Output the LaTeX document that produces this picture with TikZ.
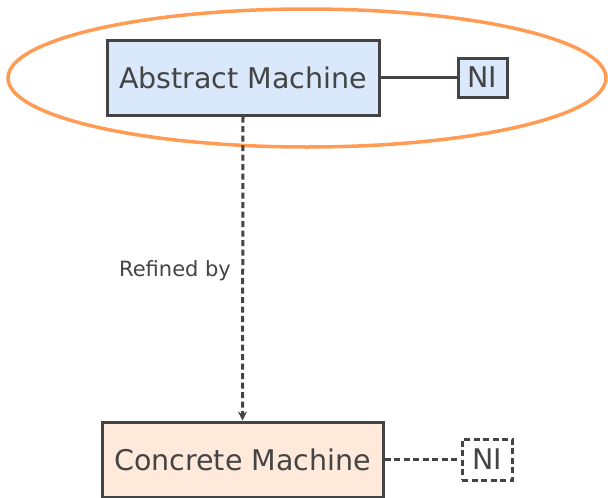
\documentclass[tikz,border=0pt]{standalone}
\usepackage{fontspec}
\setmainfont{DejaVu Sans}
\usetikzlibrary{arrows.meta}
\definecolor{edge}{HTML}{444444}
\definecolor{bluefill}{HTML}{DAE8FC}
\definecolor{orangefill}{HTML}{FFE9DB}
\definecolor{ring}{HTML}{FF9B53}
\begin{document}
\begin{tikzpicture}[x=1pt,y=-1pt,
  box/.style={draw=edge,line width=3pt,text=edge,inner sep=0pt,font=\fontsize{28.5}{32}\selectfont},
  conn/.style={draw=edge,line width=3pt},
  dash5/.style={dash pattern=on 6pt off 3.5pt}]
\useasboundingbox (0,0) rectangle (608,498);
\draw[ring,line width=3.5pt] (307,78) ellipse [x radius=299, y radius=69];
\node[box,fill=bluefill,minimum width=272pt,minimum height=75pt] (am) at (243,77.5) {Abstract Machine};
\node[box,fill=bluefill,minimum width=49pt,minimum height=39pt] (ni1) at (482.5,77.5) {NI};
\node[box,fill=orangefill,minimum width=281pt,minimum height=75pt] (cm) at (242.5,459.5) {Concrete Machine};
\node[box,dash5,minimum width=50pt,minimum height=41pt] (ni2) at (487,459.5) {NI};
\draw[conn] (am) -- (ni1);
\draw[conn,dash5] (cm) -- (ni2);
\draw[conn,dash5,-{Stealth[length=9pt,width=9pt]}] (am.south) -- (cm.north)
  node[pos=0.5,left=7pt,text=edge,font=\fontsize{21}{25}\selectfont,yshift=-2pt] (lbl) {Refined by};
\end{tikzpicture}
\end{document}
